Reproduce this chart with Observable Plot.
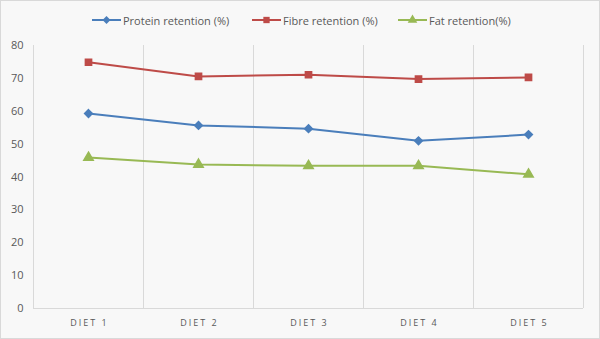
<!DOCTYPE html>
<html>
<head>
<meta charset="utf-8">
<script src="https://cdn.jsdelivr.net/npm/d3@7"></script>
<script src="https://cdn.jsdelivr.net/npm/@observablehq/plot@0.6"></script>
<style>
  html, body { margin: 0; padding: 0; background: #fff; }
  #wrap { position: relative; width: 600px; height: 339px; }
  #frame { position: absolute; left: 0; top: 0; width: 598px; height: 337px; border: 1px solid #d9d9d9; background: #f8f8f8; box-sizing: content-box; }
  #legend { position: absolute; top: 12px; left: 0; width: 600px; height: 16px; font-family: "Open Sans", sans-serif; font-size: 11px; color: #595959; }
  .item { position: absolute; top: 0; display: flex; align-items: center; height: 16px; }
  .item svg { margin-right: 2px; }
  #chart { position: absolute; left: 0; top: 0; }
  .xlab text { fill: #595959; letter-spacing: 2px; }
</style>
</head>
<body>
<div id="wrap">
  <div id="frame"></div>
  <div id="chart"></div>
  <div id="legend"></div>
</div>
<script>
const diets = ["DIET 1", "DIET 2", "DIET 3", "DIET 4", "DIET 5"];
const seriesNames = ["Protein retention (%)", "Fibre retention (%)", "Fat retention(%)"];
const protein = [59.3, 55.7, 54.7, 51.0, 52.9];
const fibre = [74.9, 70.6, 71.1, 69.8, 70.3];
const fat = [45.9, 43.8, 43.4, 43.4, 40.8];
const yTicks = [0, 10, 20, 30, 40, 50, 60, 70, 80];

const colors = ["#4a7ebb", "#be4b48", "#98b954"];
const symbols = ["diamond2", "square", "triangle"];
const seriesValues = [protein, fibre, fat];

const rows = [];
seriesNames.forEach((s, i) => {
  seriesValues[i].forEach((v, j) => rows.push({series: s, idx: j + 1, value: v}));
});
const bounds = d3.range(0.5, diets.length + 1, 1);

const chart = Plot.plot({
  width: 600,
  height: 339,
  marginLeft: 33,
  marginRight: 17,
  marginTop: 45,
  marginBottom: 31,
  style: {background: "transparent", fontFamily: "'Open Sans', sans-serif", color: "#595959"},
  x: {type: "linear", domain: [0.5, diets.length + 0.5], axis: null},
  y: {domain: [0, 80], axis: null},
  color: {domain: seriesNames, range: colors},
  symbol: {domain: seriesNames, range: symbols},
  marks: [
    Plot.ruleX(bounds, {x: d => d, stroke: "#d9d9d9", strokeWidth: 1}),
    Plot.ruleY([0], {stroke: "#d9d9d9", strokeWidth: 1}),
    Plot.text(yTicks, {x: 0.5, y: d => d, text: d => String(d), textAnchor: "end", dx: -10, fontSize: 11, fill: "#595959"}),
    Plot.text(diets, {x: (d, i) => i + 1, y: 0, text: d => d, dy: 15, dx: 1, fontSize: 9, fill: "#595959", className: "xlab"}),
    Plot.line(rows, {x: "idx", y: "value", z: "series", stroke: "series", strokeWidth: 2}),
    Plot.dot(rows, {x: "idx", y: "value", symbol: "series", fill: "series", stroke: "series", r: 3.5})
  ]
});
document.getElementById("chart").appendChild(chart);

const legend = document.getElementById("legend");
const lx = [92, 252, 398];
seriesNames.forEach((s, i) => {
  const it = document.createElement("div");
  it.className = "item";
  it.style.left = lx[i] + "px";
  const ns = "http://www.w3.org/2000/svg";
  const sv = document.createElementNS(ns, "svg");
  sv.setAttribute("width", 29); sv.setAttribute("height", 12);
  const ln = document.createElementNS(ns, "line");
  ln.setAttribute("x1", 0); ln.setAttribute("x2", 29); ln.setAttribute("y1", 6); ln.setAttribute("y2", 6);
  ln.setAttribute("stroke", colors[i]); ln.setAttribute("stroke-width", 2);
  sv.appendChild(ln);
  const p = document.createElementNS(ns, "path");
  const sym = [d3.symbolDiamond2, d3.symbolSquare, d3.symbolTriangle][i];
  p.setAttribute("d", d3.symbol(sym, 40)());
  p.setAttribute("transform", "translate(14.5,6)");
  p.setAttribute("fill", colors[i]);
  sv.appendChild(p);
  it.appendChild(sv);
  const t = document.createElement("span");
  t.textContent = s;
  it.appendChild(t);
  legend.appendChild(it);
});
</script>
</body>
</html>
